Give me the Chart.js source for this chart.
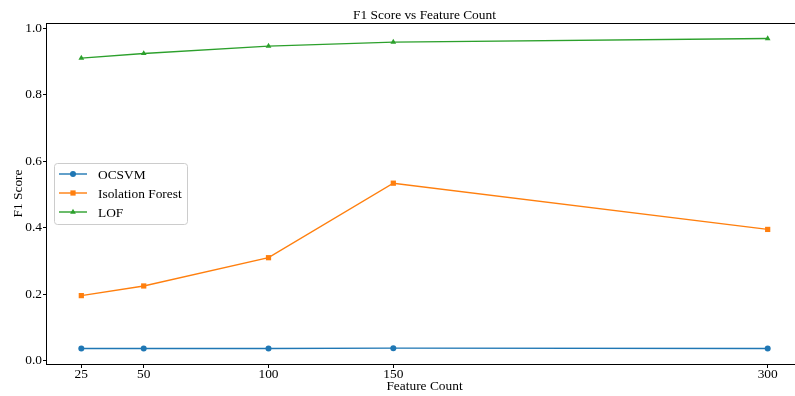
<!DOCTYPE html>
<html>
<head>
<meta charset="utf-8">
<script src="https://cdn.jsdelivr.net/npm/chart.js@4/dist/chart.umd.min.js"></script>
<style>
  html, body { margin: 0; padding: 0; background: #fff; overflow: hidden; width: 795px; height: 396px; }
  #wrap { width: 820px; height: 396px; position: relative; }
</style>
</head>
<body>
<div id="wrap"><canvas id="chart"></canvas></div>
<script>
// Feature counts tested and the F1 score of each detector
const featureCounts = [25, 50, 100, 150, 300];
const ocsvmF1 = [0.037, 0.037, 0.037, 0.038, 0.037];
const isolationForestF1 = [0.196, 0.225, 0.310, 0.534, 0.395];
const lofF1 = [0.910, 0.924, 0.946, 0.958, 0.969];

const xTicks = [25, 50, 100, 150, 300];
const yTicks = [0.0, 0.2, 0.4, 0.6, 0.8, 1.0];

const seriesNames = ['OCSVM', 'Isolation Forest', 'LOF'];
const seriesColors = ['#1f77b4', '#ff7f0e', '#2ca02c'];

const FONT = "'Liberation Serif', 'Times New Roman', serif";
const FS = 13.4;

const toPoints = (ys) => featureCounts.map((x, i) => ({ x: x, y: ys[i] }));

function markerPath(ctx, style, x, y, r) {
  ctx.beginPath();
  if (style === 'circle') {
    ctx.arc(x, y, r, 0, Math.PI * 2);
  } else if (style === 'rect') {
    const s = Math.SQRT1_2 * r;
    ctx.rect(x - s, y - s, 2 * s, 2 * s);
  } else if (style === 'triangle') {
    let a = 0;
    ctx.moveTo(x + Math.sin(a) * r, y - Math.cos(a) * r);
    a += 2 * Math.PI / 3;
    ctx.lineTo(x + Math.sin(a) * r, y - Math.cos(a) * r);
    a += 2 * Math.PI / 3;
    ctx.lineTo(x + Math.sin(a) * r, y - Math.cos(a) * r);
    ctx.closePath();
  }
}

// Axes frame, title, x tick labels and legend box
const decorations = {
  id: 'decorations',
  afterDatasetsDraw(chart) {
    const { ctx, chartArea: a } = chart;
    ctx.save();
    ctx.strokeStyle = '#000';
    ctx.lineWidth = 1;
    ctx.strokeRect(Math.round(a.left) - 0.5, Math.round(a.top) + 0.5, a.right - a.left, a.bottom - a.top);
    ctx.restore();
  },
  afterDraw(chart) {
    const { ctx, chartArea: a } = chart;
    const xs = chart.scales.x;
    ctx.save();
    ctx.fillStyle = '#000';
    ctx.font = FS + 'px ' + FONT;

    // title
    ctx.textAlign = 'center';
    ctx.textBaseline = 'alphabetic';
    ctx.fillText('F1 Score vs Feature Count', (a.left + a.right) / 2, a.top - 4);

    // x tick labels
    xTicks.forEach(v => {
      ctx.fillText(String(v), xs.getPixelForValue(v), a.bottom + 14);
    });

    // x axis title
    ctx.fillText('Feature Count', (a.left + a.right) / 2, a.bottom + 26);

    // legend
    const bx = a.left + 7.5, by = 163.5, bw = 133, bh = 61, br = 3;
    ctx.beginPath();
    ctx.moveTo(bx + br, by);
    ctx.lineTo(bx + bw - br, by);
    ctx.arcTo(bx + bw, by, bx + bw, by + br, br);
    ctx.lineTo(bx + bw, by + bh - br);
    ctx.arcTo(bx + bw, by + bh, bx + bw - br, by + bh, br);
    ctx.lineTo(bx + br, by + bh);
    ctx.arcTo(bx, by + bh, bx, by + bh - br, br);
    ctx.lineTo(bx, by + br);
    ctx.arcTo(bx, by, bx + br, by, br);
    ctx.closePath();
    ctx.fillStyle = 'rgba(255,255,255,0.8)';
    ctx.fill();
    ctx.strokeStyle = '#cccccc';
    ctx.lineWidth = 1;
    ctx.stroke();

    chart.data.datasets.forEach((ds, i) => {
      const y = 174 + i * 19;
      ctx.strokeStyle = ds.borderColor;
      ctx.lineWidth = ds.borderWidth;
      ctx.beginPath();
      ctx.moveTo(59, y);
      ctx.lineTo(87, y);
      ctx.stroke();
      ctx.fillStyle = ds.pointBackgroundColor;
      markerPath(ctx, ds.pointStyle, 73, y, ds.pointRadius);
      ctx.fill();
      ctx.fillStyle = '#000';
      ctx.font = FS + 'px ' + FONT;
      ctx.textAlign = 'left';
      ctx.textBaseline = 'middle';
      ctx.fillText(ds.label, 98, y + 1);
    });
    ctx.restore();
  }
};

const styles = [
  { pointStyle: 'circle', pointRadius: 3 },
  { pointStyle: 'rect', pointRadius: 3.7 },
  { pointStyle: 'triangle', pointRadius: 3.3 }
];
const seriesData = [ocsvmF1, isolationForestF1, lofF1];

new Chart(document.getElementById('chart'), {
  type: 'line',
  data: {
    datasets: seriesData.map((ys, i) => ({
      label: seriesNames[i],
      data: toPoints(ys),
      borderColor: seriesColors[i],
      backgroundColor: seriesColors[i],
      pointBackgroundColor: seriesColors[i],
      pointBorderWidth: 0,
      pointStyle: styles[i].pointStyle,
      pointRadius: styles[i].pointRadius,
      borderWidth: 1.4,
      tension: 0,
      fill: false
    }))
  },
  options: {
    responsive: true,
    maintainAspectRatio: false,
    devicePixelRatio: 1,
    animation: false,
    layout: { padding: { top: 23, right: 18, bottom: 0, left: 0 } },
    plugins: {
      legend: { display: false },
      title: { display: false },
      tooltip: { enabled: false }
    },
    scales: {
      x: {
        type: 'linear',
        min: 11.25,
        max: 313.75,
        border: { display: false },
        grid: { drawOnChartArea: false, drawTicks: true, tickLength: 4, color: '#000', tickColor: '#000' },
        ticks: {
          display: false,
          autoSkip: false
        },
        afterBuildTicks: (scale) => { scale.ticks = xTicks.map(v => ({ value: v })); },
        afterFit: (scale) => { scale.height = 32; }
      },
      y: {
        type: 'linear',
        min: -0.0096,
        max: 1.0156,
        border: { display: false },
        grid: { drawOnChartArea: false, drawTicks: true, tickLength: 4, color: '#000', tickColor: '#000' },
        ticks: {
          color: '#000',
          font: { family: FONT, size: FS },
          padding: 1,
          autoSkip: false,
          callback: (v) => Number(v).toFixed(1)
        },
        afterBuildTicks: (scale) => { scale.ticks = yTicks.map(v => ({ value: v })); },
        afterFit: (scale) => { scale.width = 47; },
        title: {
          display: true,
          text: 'F1 Score',
          color: '#000',
          font: { family: FONT, size: FS },
          padding: { top: 10, bottom: 0 }
        }
      }
    }
  },
  plugins: [decorations]
});
</script>
</body>
</html>
